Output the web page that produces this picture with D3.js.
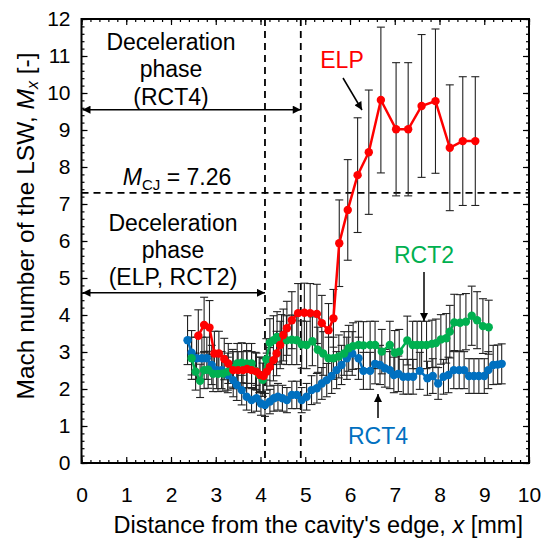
<!DOCTYPE html>
<html><head><meta charset="utf-8">
<script src="https://cdn.jsdelivr.net/npm/d3@7"></script>
<style>body{margin:0;background:#fff}svg{display:block;font-family:"Liberation Sans",Arial,sans-serif}</style>
</head><body>
<svg id="c" width="545" height="539"></svg>
<script>
// ---- data ----
const xTicks = [0,1,2,3,4,5,6,7,8,9,10];
const yTicks = [0,1,2,3,4,5,6,7,8,9,10,11,12];

const elpX = [2.61,2.74,2.86,2.97,3.07,3.19,3.28,3.39,3.50,3.61,3.70,3.80,3.91,3.99,4.07,4.14,4.21,4.29,4.36,4.44,4.51,4.59,4.70,4.84,4.98,5.11,5.26,5.37,5.52,5.63,5.76,5.95,6.17,6.42,6.69,7.03,7.30,7.60,7.91,8.23,8.52,8.80];
const elpY = [3.44,3.73,3.66,2.96,2.96,2.81,2.69,2.51,2.51,2.51,2.54,2.51,2.47,2.38,2.35,2.47,2.60,2.78,2.96,3.19,3.46,3.64,3.86,4.05,4.06,4.05,4.03,3.78,3.59,3.91,5.94,6.84,7.78,8.40,9.81,9.02,9.02,9.65,9.78,8.52,8.70,8.70];
const elpErr = [0.70,0.75,0.73,0.60,0.60,0.56,0.54,0.50,0.50,0.50,0.50,0.50,0.50,0.48,0.47,0.50,0.52,0.56,0.60,0.64,0.70,0.73,0.77,0.80,0.80,0.80,0.80,0.75,0.72,0.78,1.17,1.36,1.55,1.68,1.97,1.80,1.80,1.93,1.95,1.70,1.74,1.74];

const rct2X = [2.46,2.55,2.65,2.74,2.83,2.94,3.05,3.16,3.27,3.38,3.48,3.58,3.69,3.80,3.89,3.97,4.05,4.13,4.21,4.29,4.37,4.47,4.58,4.70,4.81,4.92,5.03,5.16,5.28,5.40,5.52,5.63,5.75,5.87,5.97,6.07,6.19,6.30,6.45,6.56,6.71,6.89,7.00,7.10,7.28,7.40,7.50,7.60,7.71,7.83,7.92,8.03,8.15,8.23,8.33,8.46,8.59,8.72,8.84,8.97,9.10];
const rct2Y = [2.83,2.47,2.22,2.51,2.52,2.41,2.41,2.42,2.47,2.56,2.69,2.71,2.69,2.69,2.49,2.38,2.25,2.80,3.25,3.32,3.41,3.34,3.32,3.33,3.32,3.20,3.19,3.29,3.06,2.96,2.83,2.83,2.88,2.96,3.10,3.16,3.19,3.18,3.19,3.19,3.01,3.19,2.98,3.01,3.31,3.19,3.19,3.19,3.19,3.22,3.24,3.34,3.37,3.55,3.80,3.79,3.82,3.98,3.86,3.70,3.67];
const rct2Err = [0.57,0.50,0.45,0.50,0.50,0.48,0.48,0.48,0.50,0.51,0.54,0.54,0.54,0.54,0.50,0.48,0.45,0.56,0.65,0.66,0.68,0.67,0.66,0.67,0.66,0.64,0.64,0.66,0.61,0.59,0.57,0.57,0.58,0.59,0.62,0.63,0.64,0.64,0.64,0.64,0.60,0.64,0.60,0.60,0.66,0.64,0.64,0.64,0.64,0.64,0.65,0.67,0.67,0.71,0.76,0.76,0.76,0.80,0.77,0.74,0.73];

const rct4X = [2.37,2.46,2.57,2.69,2.80,2.91,3.02,3.13,3.27,3.39,3.47,3.58,3.69,3.80,3.91,4.01,4.10,4.21,4.30,4.39,4.49,4.59,4.70,4.81,4.92,5.03,5.14,5.26,5.37,5.48,5.59,5.70,5.81,5.93,6.05,6.19,6.30,6.45,6.56,6.67,6.78,6.89,6.98,7.08,7.19,7.30,7.41,7.56,7.73,7.85,7.97,8.09,8.20,8.32,8.44,8.55,8.66,8.77,8.88,9.00,9.09,9.20,9.30,9.39];
const rct4Y = [3.32,2.98,2.83,2.83,2.83,2.65,2.51,2.51,2.38,2.24,2.11,1.97,1.79,1.70,1.75,1.61,1.57,1.66,1.75,1.79,1.75,1.70,1.84,1.84,1.70,1.79,1.97,2.02,2.15,2.24,2.35,2.51,2.65,2.83,2.96,2.83,2.49,2.49,2.68,2.65,2.56,2.51,2.38,2.41,2.33,2.33,2.33,2.49,2.29,2.35,2.15,2.33,2.38,2.51,2.51,2.51,2.35,2.35,2.35,2.35,2.51,2.65,2.66,2.68];
const rct4Err = [0.66,0.60,0.57,0.57,0.57,0.53,0.50,0.50,0.48,0.45,0.42,0.40,0.36,0.34,0.35,0.32,0.31,0.33,0.35,0.36,0.35,0.34,0.37,0.37,0.34,0.36,0.39,0.40,0.43,0.45,0.47,0.50,0.53,0.57,0.59,0.57,0.50,0.50,0.54,0.53,0.51,0.50,0.48,0.48,0.47,0.47,0.47,0.50,0.46,0.47,0.43,0.47,0.48,0.50,0.50,0.50,0.47,0.47,0.47,0.47,0.50,0.53,0.53,0.54];

const mCJ = 7.26;
const decelRCT4 = 4.9;      // end of RCT4 deceleration phase [mm]
const decelELP = 4.1;       // end of ELP/RCT2 deceleration phase [mm]
const arrowRCT4Level = 9.55;
const arrowELPLevel = 4.6;

// ---- layout ----
const svg = d3.select("#c");
const L = 81.5, R = 529, T = 19, B = 463;
const x = d3.scaleLinear().domain([0,10]).range([L,R]);
const y = d3.scaleLinear().domain([0,12]).range([B,T]);
const minorX = d3.range(0,10.001,0.2).map(v=>+v.toFixed(1));
const minorY = d3.range(0,12.001,0.2).map(v=>+v.toFixed(1));

const defs = svg.append("defs");
defs.append("marker").attr("id","ah").attr("viewBox","0 0 10 10").attr("refX",10).attr("refY",5)
  .attr("markerWidth",11).attr("markerHeight",8).attr("markerUnits","userSpaceOnUse").attr("orient","auto-start-reverse")
  .append("path").attr("d","M0,0L10,5L0,10Z").attr("fill","#000");

// axes ticks (inward)
function axisG(gen, tr){ return svg.append("g").attr("transform",tr).call(gen); }
const tickFont = 21;
axisG(d3.axisBottom(x).tickValues(xTicks).tickSize(-6).tickPadding(24).tickFormat(d3.format("d")), `translate(0,${B})`);
axisG(d3.axisBottom(x).tickValues(minorX).tickSize(-3).tickFormat(""), `translate(0,${B})`);
axisG(d3.axisTop(x).tickValues(xTicks).tickSize(-6).tickFormat(""), `translate(0,${T})`);
axisG(d3.axisTop(x).tickValues(minorX).tickSize(-3).tickFormat(""), `translate(0,${T})`);
axisG(d3.axisLeft(y).tickValues(yTicks).tickSize(-6).tickPadding(11).tickFormat(d3.format("d")), `translate(${L},0)`);
axisG(d3.axisLeft(y).tickValues(minorY).tickSize(-3).tickFormat(""), `translate(${L},0)`);
axisG(d3.axisRight(y).tickValues(yTicks).tickSize(-6).tickFormat(""), `translate(${R},0)`);
axisG(d3.axisRight(y).tickValues(minorY).tickSize(-3).tickFormat(""), `translate(${R},0)`);
svg.selectAll(".domain").remove();
svg.selectAll(".tick line").attr("stroke","#000").attr("stroke-width",1.2);
svg.selectAll(".tick text").attr("font-size",tickFont).attr("fill","#000").attr("font-family","Liberation Sans, Arial, sans-serif");
svg.append("rect").attr("x",L).attr("y",T).attr("width",R-L).attr("height",B-T).attr("fill","none").attr("stroke","#000").attr("stroke-width",2);

// dashed reference lines
const dash = "7,5";
svg.append("line").attr("x1",x(0)).attr("x2",x(10)).attr("y1",y(mCJ)-1.5).attr("y2",y(mCJ)-1.5).attr("stroke","#000").attr("stroke-width",1.8).attr("stroke-dasharray",dash);
[decelELP, decelRCT4].forEach(v=>svg.append("line").attr("x1",x(v)).attr("x2",x(v)).attr("y1",y(12)).attr("y2",y(0)).attr("stroke","#000").attr("stroke-width",1.8).attr("stroke-dasharray",dash));

// double arrows
[[arrowRCT4Level,decelRCT4],[arrowELPLevel,decelELP]].forEach(([lv,end])=>{
  svg.append("line").attr("x1",x(0)+1).attr("x2",x(end)).attr("y1",y(lv)).attr("y2",y(lv))
    .attr("stroke","#000").attr("stroke-width",1.5).attr("marker-start","url(#ah)").attr("marker-end","url(#ah)");
});

// annotation texts
const annF = 23;
function txtLines(lines, cx, ys){
  lines.forEach((t,i)=>svg.append("text").attr("x",cx).attr("y",ys[i]).attr("text-anchor","middle").attr("font-size",annF).attr("fill","#000").text(t));
}
txtLines(["Deceleration","phase","(RCT4)"], 171, [50,77,105]);
txtLines(["Deceleration","phase","(ELP, RCT2)"], 173, [231,258,285]);
const mt = svg.append("text").attr("x",177).attr("y",185).attr("text-anchor","middle").attr("font-size",annF).attr("fill","#000");
mt.append("tspan").attr("font-style","italic").text("M");
mt.append("tspan").attr("font-size",15).attr("dy",5).text("CJ");
mt.append("tspan").attr("dy",-5).text(" = 7.26");

// error bars
const series = [
  {name:"RCT4", xs:rct4X, ys:rct4Y, es:rct4Err, color:"#0070c0"},
  {name:"RCT2", xs:rct2X, ys:rct2Y, es:rct2Err, color:"#00b050"},
  {name:"ELP",  xs:elpX,  ys:elpY,  es:elpErr,  color:"#ff0000"}
];
const eb = svg.append("g").attr("stroke","#222").attr("stroke-width",1.1);
series.forEach(s=>{
  s.xs.forEach((xv,i)=>{
    const lo=y(s.ys[i]-s.es[i]), hi=y(s.ys[i]+s.es[i]), cx=x(xv);
    eb.append("line").attr("x1",cx).attr("x2",cx).attr("y1",lo).attr("y2",hi);
    eb.append("line").attr("x1",cx-4).attr("x2",cx+4).attr("y1",lo).attr("y2",lo);
    eb.append("line").attr("x1",cx-4).attr("x2",cx+4).attr("y1",hi).attr("y2",hi);
  });
});
// lines and markers
series.forEach(s=>{
  const pts = s.xs.map((v,i)=>[v,s.ys[i]]);
  svg.append("path").datum(pts).attr("fill","none").attr("stroke",s.color).attr("stroke-width",2.5)
    .attr("d",d3.line().x(d=>x(d[0])).y(d=>y(d[1])));
  svg.append("g").selectAll("circle").data(pts).join("circle")
    .attr("cx",d=>x(d[0])).attr("cy",d=>y(d[1])).attr("r",4.2).attr("fill",s.color);
});

// series labels with arrows
function lbl(t,cx,cy,col){ svg.append("text").attr("x",cx).attr("y",cy).attr("text-anchor","middle").attr("font-size",23).attr("fill",col).text(t); }
lbl("ELP",342,68,"#ff0000");
lbl("RCT2",424,263,"#00b050");
lbl("RCT4",378,444,"#0070c0");
function arr(x1,y1,x2,y2){ svg.append("line").attr("x1",x1).attr("y1",y1).attr("x2",x2).attr("y2",y2).attr("stroke","#000").attr("stroke-width",1.5).attr("marker-end","url(#ah)"); }
arr(343,78,362,110);
arr(424,272,424,321);
arr(378,418,378,394);

// axis titles
svg.append("text").attr("x",(L+R)/2+13).attr("y",533).attr("text-anchor","middle").attr("font-size",23.5).attr("fill","#000")
  .call(t=>{t.append("tspan").text("Distance from the cavity's edge, "); t.append("tspan").attr("font-style","italic").text("x"); t.append("tspan").text(" [mm]");});
svg.append("text").attr("transform",`translate(34,226) rotate(-90)`).attr("text-anchor","middle").attr("font-size",24.5).attr("fill","#000")
  .call(t=>{t.append("tspan").text("Mach number of the LSW, "); t.append("tspan").attr("font-style","italic").text("M");
    t.append("tspan").attr("font-style","italic").attr("font-size",16).attr("dy",4).text("x"); t.append("tspan").attr("dy",-4).text(" [-]");});
</script>
</body></html>
